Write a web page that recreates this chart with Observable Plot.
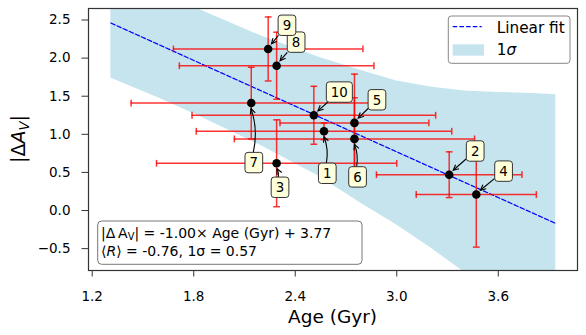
<!DOCTYPE html>
<html><head><meta charset="utf-8">
<script src="https://cdn.jsdelivr.net/npm/d3@7"></script>
<script src="https://cdn.jsdelivr.net/npm/@observablehq/plot@0.6"></script>
<style>
body{margin:0;background:#fff}
#chart{width:586px;height:335px}
</style>
</head><body><div id="chart"></div>
<script>
// ---- data ----
const pointIds    = ["1","2","3","4","5","6","7","8","9","10"];
const ageGyr      = [2.57, 3.31, 2.29, 3.47, 2.75, 2.75, 2.14, 2.29, 2.24, 2.51];
const absDeltaAV  = [1.04, 0.47, 0.62, 0.21, 1.15, 0.94, 1.41, 1.90, 2.12, 1.25];
const ageErr      = [0.755, 0.43, 0.71, 0.355, 0.44, 0.71, 0.71, 0.575, 0.56, 0.72];
const avErr       = [0.11, 0.30, 0.57, 0.69, 0.64, 0.54, 0.47, 0.44, 0.42, 0.38];
// annotation label offsets (px) and arrow style
const labelDx     = [3.8, 26.5, 3.9, 27.8, 23.0, 3.6, 3.1, 20.0, 19.3, 26.0];
const labelDy     = [42.5, -23.2, 24.5, -22.9, -22.6, 38.5, 60.0, -23.1, -23.2, -22.7];
const labelCurved = [true, false, true, false, false, true, true, false, false, false];

const fitX = [1.31, 3.94];
const fitY = [2.46, -0.17];
const bandX    = [1.31, 1.60, 1.84, 2.20, 2.54, 2.80, 3.00, 3.20, 3.40, 3.60, 3.80, 3.94];
const bandLow  = [1.74, 1.47, 1.23, 0.85, 0.45, 0.08, -0.19, -0.49, -0.81, -1.19, -1.57, -1.87];
const bandHigh = [3.18, 2.87, 2.63, 2.29, 2.01, 1.83, 1.70, 1.62, 1.57, 1.55, 1.535, 1.52];

const xTicks = [1.2, 1.8, 2.4, 3.0, 3.6];
const yTicks = [-0.5, 0, 0.5, 1.0, 1.5, 2.0, 2.5];
const xLabel = "Age (Gyr)";
const legendFit = "Linear fit";
const legendBand = ["1", "σ"];
const fitLine1 = "| = -1.00× Age (Gyr) + 3.77";
const fitLine2 = "⟩ = -0.76, 1σ = 0.57";

// ---- tables built from the arrays ----
const pts = pointIds.map((id, i) => ({
  id, x: ageGyr[i], y: absDeltaAV[i], xe: ageErr[i], ye: avErr[i],
  dx: labelDx[i], dy: labelDy[i], curved: labelCurved[i]
}));
const band = bandX.map((x, i) => ({x, lo: bandLow[i], hi: bandHigh[i]}));
const fit = fitX.map((x, i) => ({x, y: fitY[i]}));

const FONT = "DejaVu Sans";
const capV = {draw(ctx, size){const r = Math.sqrt(size/Math.PI); ctx.moveTo(0,-r); ctx.lineTo(0,r);}};
const capH = {draw(ctx, size){const r = Math.sqrt(size/Math.PI); ctx.moveTo(-r,0); ctx.lineTo(r,0);}};
const ERR = {stroke: "red", strokeOpacity: 0.8, strokeWidth: 1.5};

function rich(parent, parts, size, subShift = 0.24) {
  const t = parent.append("text").attr("font-size", size).attr("text-anchor", "start");
  let shift = 0;
  for (const p of parts) {
    const s = t.append("tspan").text(p.t);
    if (p.italic) s.attr("font-style", "italic");
    if (p.sub) { const d = size * subShift; s.attr("font-size", size * 0.7).attr("dy", d - shift); shift = d; }
    else if (shift) { s.attr("dy", -shift); shift = 0; }
  }
  return t;
}

function overlay(index, scales, values, dim) {
  const g = d3.create("svg:g").attr("font-family", FONT).attr("fill", "black");
  const L = dim.marginLeft, R = dim.width - dim.marginRight, T = dim.marginTop, B = dim.height - dim.marginBottom;

  // point labels + arrows
  for (const p of pts) {
    const px = scales.x(p.x), py = scales.y(p.y);
    const cx = px + p.dx, cy = py + p.dy;
    const hw = p.id.length > 1 ? 13 : 8.85, hh = 10.2;
    const vx = px - cx, vy = py - cy;
    const t = Math.min(hw / Math.abs(vx || 1e-9), hh / Math.abs(vy || 1e-9));
    const sx = cx + vx * t, sy = cy + vy * t;
    const len = Math.hypot(vx, vy);
    const ex = px - vx / len * 6, ey = py - vy / len * 6;
    let d, tx, ty;
    if (p.curved) {
      const ax = ex - sx, ay = ey - sy, f = 0.14;
      const qx = (sx + ex) / 2 - f * ay, qy = (sy + ey) / 2 + f * ax;
      d = `M${sx},${sy}Q${qx},${qy} ${ex},${ey}`;
      tx = ex - qx; ty = ey - qy;
    } else {
      d = `M${sx},${sy}L${ex},${ey}`;
      tx = ex - sx; ty = ey - sy;
    }
    const a = Math.atan2(ty, tx), hl = 6, ha = 0.45;
    const h1x = ex - hl * Math.cos(a - ha), h1y = ey - hl * Math.sin(a - ha);
    const h2x = ex - hl * Math.cos(a + ha), h2y = ey - hl * Math.sin(a + ha);
    g.append("path").attr("d", d).attr("fill", "none").attr("stroke", "black").attr("stroke-width", 1.1);
    g.append("path").attr("d", `M${h1x},${h1y}L${ex},${ey}L${h2x},${h2y}`).attr("fill", "none").attr("stroke", "black").attr("stroke-width", 1.1);
    g.append("rect").attr("x", cx - hw).attr("y", cy - hh).attr("width", 2 * hw).attr("height", 2 * hh)
      .attr("rx", 3).attr("fill", "#ffffdc").attr("stroke", "#333").attr("stroke-width", 1);
    g.append("text").attr("x", cx).attr("y", cy).attr("dy", "0.36em").attr("text-anchor", "middle")
      .attr("font-size", 13.4).text(p.id);
  }

  // legend
  const lx = R - 128.7, ly = T + 8;
  g.append("rect").attr("x", lx).attr("y", ly).attr("width", 121.7).attr("height", 47.3).attr("rx", 3)
    .attr("fill", "white").attr("fill-opacity", 0.85).attr("stroke", "#888").attr("stroke-width", 1);
  g.append("line").attr("x1", lx + 4.4).attr("x2", lx + 33.4).attr("y1", ly + 10.7).attr("y2", ly + 10.7)
    .attr("stroke", "blue").attr("stroke-width", 1.2).attr("stroke-dasharray", "4.5,2.2");
  g.append("rect").attr("x", lx + 4.4).attr("y", ly + 28.3).attr("width", 31.3).attr("height", 11.4)
    .attr("fill", "lightblue").attr("fill-opacity", 0.7);
  g.append("text").attr("x", lx + 48.4).attr("y", ly + 16.5).attr("font-size", 15.3).attr("text-anchor", "start").text(legendFit);
  rich(g, [{t: legendBand[0]}, {t: legendBand[1], italic: true}], 15.3).attr("x", lx + 48.4).attr("y", ly + 39.3);

  // fit annotation box
  const bx = L + 9.7, bw = 264.3, bh = 43.3, by = B - 5.7 - bh;
  g.append("rect").attr("x", bx).attr("y", by).attr("width", bw).attr("height", bh).attr("rx", 4)
    .attr("fill", "white").attr("stroke", "#777").attr("stroke-width", 1);
  rich(g, [{t: "|Δ\u2009A"}, {t: "V", sub: true}, {t: fitLine1}], 14, 0.18).attr("x", bx + 3.3).attr("y", by + 16.8);
  rich(g, [{t: "⟨"}, {t: "R", italic: true}, {t: fitLine2}], 14).attr("x", bx + 3.3).attr("y", by + 35);

  // axis labels
  g.append("text").attr("x", (L + R) / 2).attr("y", B + 52.5).attr("text-anchor", "middle")
    .attr("font-size", 18.5).text(xLabel);
  rich(g, [{t: "|Δ"}, {t: "A", italic: true}, {t: "V", italic: true, sub: true}, {t: "|"}], 19)
    .attr("text-anchor", "middle").attr("transform", `translate(24.8,${(T + B) / 2}) rotate(-90)`);
  return g.node();
}

const chart = Plot.plot({
  width: 586, height: 335,
  marginLeft: 88, marginRight: 9, marginTop: 8, marginBottom: 65,
  x: {domain: [1.1781, 4.0683]},
  y: {domain: [-0.787, 2.651]},
  style: {fontFamily: FONT, background: "white", color: "black"},
  marks: [
    Plot.areaY(band, {x: "x", y1: "lo", y2: "hi", fill: "lightblue", fillOpacity: 0.7, clip: true}),
    Plot.line(fit, {x: "x", y: "y", stroke: "blue", strokeWidth: 1.2, strokeDasharray: "4.5,2.2", clip: true}),
    Plot.ruleY(pts, {y: "y", x1: d => d.x - d.xe, x2: d => d.x + d.xe, ...ERR}),
    Plot.ruleX(pts, {x: "x", y1: d => d.y - d.ye, y2: d => d.y + d.ye, ...ERR}),
    Plot.dot(pts, {x: d => d.x - d.xe, y: "y", symbol: capV, r: 3.4, fill: "none", ...ERR}),
    Plot.dot(pts, {x: d => d.x + d.xe, y: "y", symbol: capV, r: 3.4, fill: "none", ...ERR}),
    Plot.dot(pts, {x: "x", y: d => d.y - d.ye, symbol: capH, r: 3.4, fill: "none", ...ERR}),
    Plot.dot(pts, {x: "x", y: d => d.y + d.ye, symbol: capH, r: 3.4, fill: "none", ...ERR}),
    Plot.dot(pts, {x: "x", y: "y", r: 4.3, fill: "black"}),
    Plot.axisX({ticks: xTicks, tickFormat: d3.format(".1f"), tickSize: 6.5, tickPadding: 14, label: null, fontSize: 13.5, stroke: "#333"}),
    Plot.axisY({ticks: yTicks, tickFormat: d3.format(".1f"), tickSize: 6.5, tickPadding: 11.5, label: null, fontSize: 13.5, stroke: "#333"}),
    Plot.frame({stroke: "#333", strokeWidth: 1.2}),
    overlay
  ]
});
document.getElementById("chart").append(chart);
</script>
</body></html>
